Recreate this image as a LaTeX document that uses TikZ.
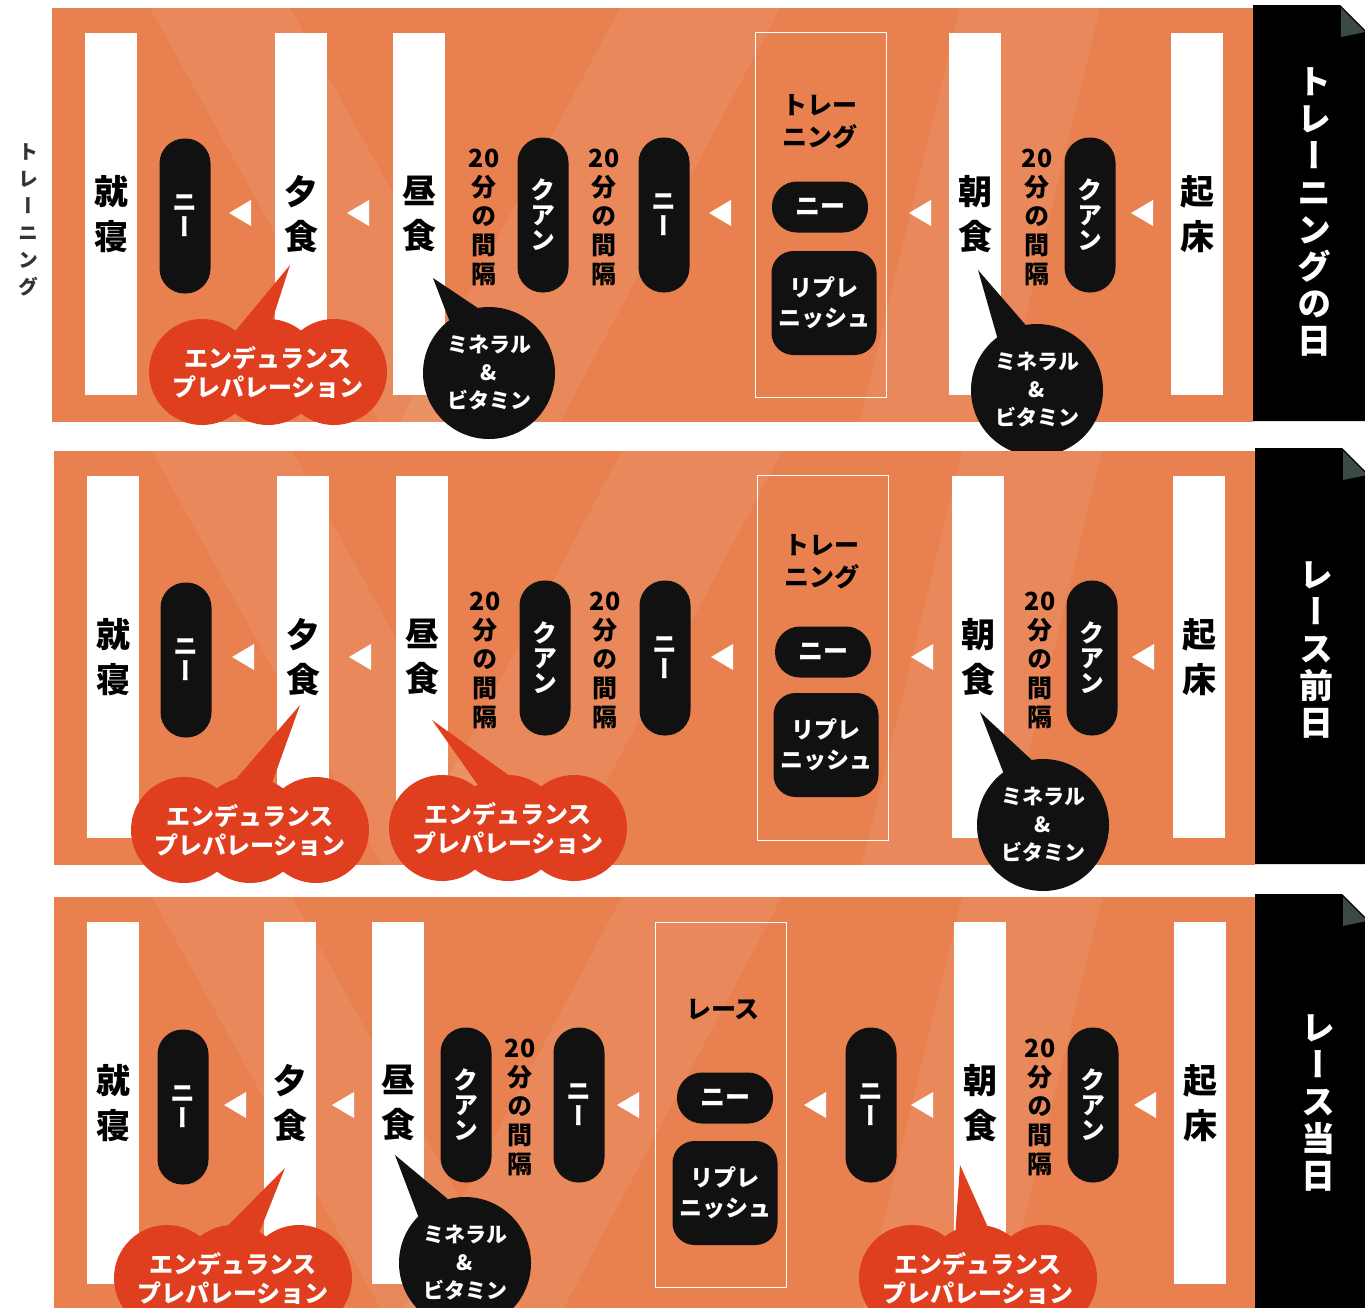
\documentclass[tikz,border=0pt]{standalone}
\usepackage{fontspec}
\setmainfont{Noto Sans CJK JP}
\newfontfamily\tatefont{Noto Sans CJK JP}[RawFeature=+vert]
\usetikzlibrary{
  calc,
  positioning
}
\definecolor{ppOrange}{HTML}{E8814F}
\definecolor{ppRed}{HTML}{E03F1F}
\definecolor{ppInk}{HTML}{111111}
\definecolor{ppFold}{HTML}{3C4A47}
\definecolor{ppGrey}{HTML}{333333}
\tikzset{
  band/.style={fill=ppOrange},
  facet/.style={fill=white, opacity=.07},
  tab/.style={fill=black},
  bar/.style={
    fill=white, minimum width=52, minimum height=362, inner sep=0,
    align=center, font=\tatefont\bfseries\fontsize{34}{45}\selectfont
  },
  pill/.style={
    fill=ppInk, text=white, rounded corners=25, minimum width=51,
    minimum height=155, inner sep=0, align=center,
    font=\tatefont\bfseries\fontsize{25}{25}\selectfont
  },
  gaptext/.style={inner sep=0, align=center, font=\tatefont\bfseries\fontsize{25}{29}\selectfont},
  session/.style={draw=white, line width=1.5, minimum width=131, minimum height=365, inner sep=0},
  sesstitle/.style={inner sep=0, align=center, font=\bfseries\fontsize{25}{32}\selectfont},
  hpill/.style={
    fill=ppInk, text=white, rounded corners=25, minimum width=96,
    minimum height=51, inner sep=0, font=\bfseries\fontsize{25}{28}\selectfont
  },
  rbox/.style={
    fill=ppInk, text=white, rounded corners=22, minimum width=105,
    minimum height=104, inner sep=0, align=center, font=\bfseries\fontsize{23}{30}\selectfont
  },
  tabtext/.style={text=white, inner sep=0, align=center, font=\tatefont\bfseries\fontsize{34}{37}\selectfont},
  sidetext/.style={text=ppGrey, inner sep=0, align=center, font=\tatefont\bfseries\fontsize{20}{27}\selectfont},
  mvcall/.style={
    circle, fill=ppInk, text=white, minimum size=132, inner sep=0,
    align=center, font=\bfseries\fontsize{21}{28}\selectfont
  },
  eptext/.style={text=white, inner sep=0, align=center, font=\bfseries\fontsize{24}{29}\selectfont},
  epcall/.style={
    circle, fill=ppRed, minimum size=106, inner sep=0,
    preaction={fill=ppRed, transform canvas={xshift=-66pt}},
    postaction={fill=ppRed, transform canvas={xshift=66pt}},
    label={[eptext]center:{エンデュランス\\プレパレーション}}
  },
  flowtri/.pic={\fill[white] (-11,0) -- (11,-13) -- (11,13) -- cycle;}
}
% light diagonal facets of one band
\newcommand{\bandfacets}{%
  \begin{scope}
    \clip (52,8) rectangle (1253,422);
    \fill[facet] (150,8) -- (290,8) -- (520,422) -- (380,422) -- cycle;
    \fill[facet] (620,8) -- (780,8) -- (560,422) -- (400,422) -- cycle;
    \fill[facet] (960,8) -- (1100,8) -- (1000,422) -- (860,422) -- cycle;
  \end{scope}}
% black day tab with folded corner
\newcommand{\daytab}{%
  \fill[tab] (1253,5) -- (1340,5) -- (1365,30) -- (1365,421) -- (1253,421) -- cycle;
  \fill[ppFold] (1341,8) -- (1365,32) -- (1341,37) -- cycle;}

\begin{document}
\begin{tikzpicture}[x=1pt,y=-1pt]
  \useasboundingbox (0,0) rectangle (1365,1307);
  \clip (0,0) rectangle (1365,1307);
  \fill[white] (0,0) rectangle (1365,1307);

  \node[sidetext] (side) at (28,220) {ト\\レ\\ー\\ニ\\ン\\グ};

  % training day
  \begin{scope}
    \fill[band] (52,8) rectangle (1253,422);
    \bandfacets
    \daytab
    \node[tabtext] (r1day) at (1314,212) {ト\\レ\\ー\\ニ\\ン\\グ\\の\\日};
    \node[bar] (r1bed) at (111,214) {就\\寝};
    \node[bar] (r1din) at (301,214) {夕\\食};
    \node[bar] (r1lun) at (419,214) {昼\\食};
    \node[bar] (r1brk) at (975,214) {朝\\食};
    \node[bar] (r1wake) at (1197,214) {起\\床};
    \node[session] (r1box) at (821,215) {};
    \node[sesstitle] (r1ttl) at (820,122) {トレー\\ニング};
    \node[hpill] (r1kneeT) at (820,207) {ニー};
    \node[rbox] (r1repl) at (824,303) {リプレ\\ニッシュ};
    \node[pill] (r1quanA) at (1090,215) {ク\\ア\\ン};
    \node[gaptext] (r1gapA) at (1037,217) {20\\分\\の\\間\\隔};
    \node[pill] (r1kneeA) at (664,215) {ニ\\ー};
    \node[gaptext] (r1gapB) at (604,217) {20\\分\\の\\間\\隔};
    \node[pill] (r1quanB) at (543,215) {ク\\ア\\ン};
    \node[gaptext] (r1gapC) at (484,217) {20\\分\\の\\間\\隔};
    \node[pill] (r1kneeB) at (185,216) {ニ\\ー};
    \foreach \x in {1142,920,720,358,240}
      \pic at (\x,213) {flowtri};
    \coordinate (r1tipB) at (978,270);
    \coordinate (r1tipL) at (433,278);
    \coordinate (r1tipD) at (290,265);
    \node[mvcall] (r1mvB) at (1037,390) {ミネラル\\\&\\ビタミン};
    \fill[ppInk] (r1tipB) -- (r1mvB.127) -- (r1mvB.100) -- cycle;
    \node[mvcall] (r1mvL) at (489,373) {ミネラル\\\&\\ビタミン};
    \fill[ppInk] (r1tipL) -- (r1mvL.127) -- (r1mvL.100) -- cycle;
    \node[epcall] (r1epD) at (268,372) {};
    \fill[ppRed] (r1tipD) -- (r1epD.125) -- (r1epD.85) -- cycle;
  \end{scope}

  % day before the race
  \begin{scope}[shift={(2,443)}]
    \fill[band] (52,8) rectangle (1253,422);
    \bandfacets
    \daytab
    \node[tabtext] (r2day) at (1314,207) {レ\\ー\\ス\\前\\日};
    \node[bar] (r2bed) at (111,214) {就\\寝};
    \node[bar] (r2din) at (301,214) {夕\\食};
    \node[bar] (r2lun) at (420,214) {昼\\食};
    \node[bar] (r2brk) at (976,214) {朝\\食};
    \node[bar] (r2wake) at (1197,214) {起\\床};
    \node[session] (r2box) at (821,215) {};
    \node[sesstitle] (r2ttl) at (820,119) {トレー\\ニング};
    \node[hpill] (r2kneeT) at (821,209) {ニー};
    \node[rbox] (r2repl) at (824,302) {リプレ\\ニッシュ};
    \node[pill] (r2quanA) at (1090,215) {ク\\ア\\ン};
    \node[gaptext] (r2gapA) at (1038,217) {20\\分\\の\\間\\隔};
    \node[pill] (r2kneeA) at (663,215) {ニ\\ー};
    \node[gaptext] (r2gapB) at (603,217) {20\\分\\の\\間\\隔};
    \node[pill] (r2quanB) at (543,215) {ク\\ア\\ン};
    \node[gaptext] (r2gapC) at (483,217) {20\\分\\の\\間\\隔};
    \node[pill] (r2kneeB) at (184,217) {ニ\\ー};
    \foreach \x in {1141,920,720,358,241}
      \pic at (\x,214) {flowtri};
    \coordinate (r2tipB) at (978,269);
    \coordinate (r2tipL) at (430,277);
    \coordinate (r2tipD) at (298,262);
    \node[mvcall] (r2mvB) at (1041,382) {ミネラル\\\&\\ビタミン};
    \fill[ppInk] (r2tipB) -- (r2mvB.127) -- (r2mvB.100) -- cycle;
    \node[epcall] (r2epL) at (506,385) {};
    \fill[ppRed] (r2tipL) -- (r2epL.125) -- (r2epL.90) -- cycle;
    \node[epcall] (r2epD) at (248,387) {};
    \fill[ppRed] (r2tipD) -- (r2epD.105) -- (r2epD.65) -- cycle;
  \end{scope}

  % race day
  \begin{scope}[shift={(2,889)}]
    \fill[band] (52,8) rectangle (1255,430);
    \bandfacets
    \daytab
    \node[tabtext] (r3day) at (1316,214) {レ\\ー\\ス\\当\\日};
    \node[bar] (r3bed) at (111,214) {就\\寝};
    \node[bar] (r3din) at (288,214) {夕\\食};
    \node[bar] (r3lun) at (396,214) {昼\\食};
    \node[bar] (r3brk) at (978,214) {朝\\食};
    \node[bar] (r3wake) at (1198,214) {起\\床};
    \node[session] (r3box) at (719,216) {};
    \node[sesstitle] (r3ttl) at (721,121) {レース};
    \node[hpill] (r3kneeT) at (723,209) {ニー};
    \node[rbox] (r3repl) at (723,304) {リプレ\\ニッシュ};
    \node[pill] (r3quanA) at (1091,216) {ク\\ア\\ン};
    \node[gaptext] (r3gapA) at (1038,218) {20\\分\\の\\間\\隔};
    \node[pill] (r3kneeA) at (869,216) {ニ\\ー};
    \node[pill] (r3kneeB) at (577,216) {ニ\\ー};
    \node[gaptext] (r3gapB) at (518,218) {20\\分\\の\\間\\隔};
    \node[pill] (r3quanB) at (464,216) {ク\\ア\\ン};
    \node[pill] (r3kneeC) at (181,218) {ニ\\ー};
    \foreach \x in {1143,920,813,626,341,233}
      \pic at (\x,216) {flowtri};
    \coordinate (r3tipB) at (958,276);
    \coordinate (r3tipL) at (393,266);
    \coordinate (r3tipD) at (283,279);
    \node[epcall] (r3epB) at (976,389) {};
    \fill[ppRed] (r3tipB) -- (r3epB.115) -- (r3epB.80) -- cycle;
    \node[mvcall] (r3mvL) at (463,374) {ミネラル\\\&\\ビタミン};
    \fill[ppInk] (r3tipL) -- (r3mvL.135) -- (r3mvL.105) -- cycle;
    \node[epcall] (r3epD) at (231,389) {};
    \fill[ppRed] (r3tipD) -- (r3epD.95) -- (r3epD.60) -- cycle;
  \end{scope}
\end{tikzpicture}
\end{document}
